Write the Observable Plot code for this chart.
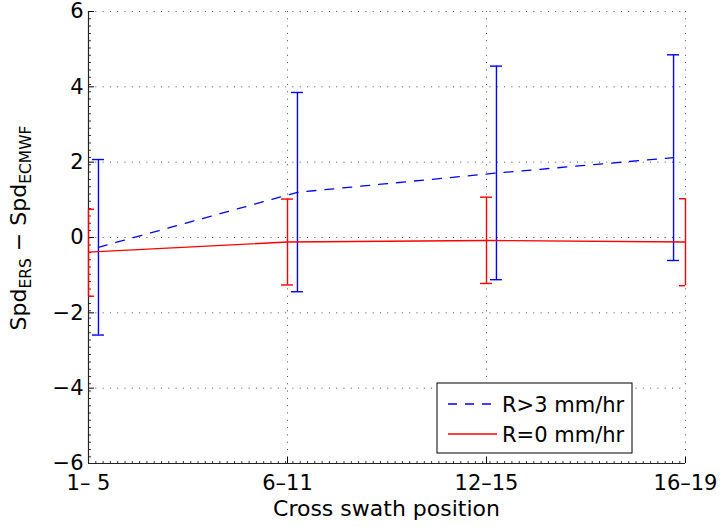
<!DOCTYPE html>
<html><head><meta charset="utf-8">
<script src="https://cdn.jsdelivr.net/npm/d3@7"></script>
<script src="https://cdn.jsdelivr.net/npm/@observablehq/plot@0.6"></script>
<style>body{margin:0;background:#fff} svg{font-family:"DejaVu Sans";}</style>
</head><body><div id="chart"></div>
<script>
// categories (cross swath position groups) and their axis positions
const positions = ["1– 5", "6–11", "12–15", "16–19"];
const positionTicks = [1, 2, 3, 4];
const yTicks = [-6, -4, -2, 0, 2, 4, 6];
const seriesNames = ["R>3 mm/hr", "R=0 mm/hr"];
const xLabel = "Cross swath position";

// R>3 mm/hr (blue, dashed) — plotted slightly offset from the category positions
const rainX = [1.05, 2.05, 3.05, 3.94];
const rainMean = [-0.26, 1.20, 1.71, 2.12];
const rainLow = [-2.59, -1.44, -1.12, -0.61];
const rainHigh = [2.07, 3.85, 4.55, 4.85];

// R=0 mm/hr (red, solid)
const dryX = [1, 2, 3, 4];
const dryMean = [-0.39, -0.12, -0.08, -0.12];
const dryLow = [-1.56, -1.26, -1.22, -1.28];
const dryHigh = [0.75, 1.02, 1.07, 1.03];

const rain = rainX.map((x, i) => ({x, mean: rainMean[i], low: rainLow[i], high: rainHigh[i]}));
const dry = dryX.map((x, i) => ({x, mean: dryMean[i], low: dryLow[i], high: dryHigh[i]}));

const BLUE = "#0000ff", RED = "#ff0000";
const gridStyle = {stroke: "#000", strokeOpacity: 0.7, strokeDasharray: "1,6.3", strokeWidth: 1};

function errorBars(data, color) {
  return [
    Plot.ruleX(data, {x: "x", y1: "low", y2: "high", stroke: color, strokeWidth: 1.4}),
    Plot.ruleY(data, {y: "high", x1: "x", x2: "x", insetLeft: -6, insetRight: -6, stroke: color, strokeWidth: 1.4, clip: true}),
    Plot.ruleY(data, {y: "low", x1: "x", x2: "x", insetLeft: -6, insetRight: -6, stroke: color, strokeWidth: 1.4, clip: true})
  ];
}

const chart = Plot.plot({
  width: 720, height: 527,
  marginLeft: 88, marginRight: 35, marginTop: 11, marginBottom: 64,
  style: {fontFamily: "DejaVu Sans", fontSize: "21px", color: "#000", background: "#fff", overflow: "visible"},
  x: {domain: [positionTicks[0], positionTicks[positionTicks.length - 1]]},
  y: {domain: [yTicks[0], yTicks[yTicks.length - 1]]},
  marks: [
    Plot.gridY(yTicks.slice(1), gridStyle),
    Plot.gridX(positionTicks.slice(1), gridStyle),
    // minor tick texture along the axes
    Plot.ruleX([positionTicks[0]], {dx: 1.5, strokeWidth: 2, stroke: "#333", strokeDasharray: "1,6.3"}),
    Plot.ruleY([yTicks[0]], {dy: -1.5, strokeWidth: 2, stroke: "#333", strokeDasharray: "1,6.3"}),
    // inner major ticks
    Plot.ruleY(yTicks, {x1: positionTicks[0], x2: positionTicks[0], insetRight: -6, stroke: "#000"}),
    Plot.ruleX(positionTicks, {y1: yTicks[0], y2: yTicks[0], insetTop: -6, insetBottom: 0, stroke: "#000"}),
    // axis lines
    Plot.ruleX([positionTicks[0]], {stroke: "#222", strokeWidth: 1.2}),
    Plot.ruleY([yTicks[0]], {stroke: "#222", strokeWidth: 1.2}),
    Plot.axisY(yTicks, {tickSize: 0, tickPadding: 5, fontSize: 21, label: null, tickFormat: d => d < 0 ? "−" + Math.abs(d) : String(d)}),
    Plot.axisX(positionTicks, {tickSize: 0, tickPadding: 12, fontSize: 21, label: null, tickFormat: d => positions[positionTicks.indexOf(d)]}),
    // series
    ...errorBars(rain, BLUE),
    ...errorBars(dry, RED),
    Plot.line(rain, {x: "x", y: "mean", stroke: BLUE, strokeWidth: 1.3, strokeDasharray: "9,9"}),
    Plot.line(dry, {x: "x", y: "mean", stroke: RED, strokeWidth: 1.3})
  ]
});

const svg = d3.select(chart);
// x label
svg.append("text").attr("x", 386.5).attr("y", 516).attr("text-anchor", "middle")
  .attr("font-size", 22).attr("fill", "#000").text(xLabel);
// y label with subscripts
const yl = svg.append("text").attr("transform", "translate(26,228) rotate(-90)")
  .attr("text-anchor", "middle").attr("font-size", 22).attr("fill", "#000");
yl.append("tspan").text("Spd");
yl.append("tspan").attr("font-size", 15.5).attr("dy", 5).text("ERS");
yl.append("tspan").attr("dy", -5).text(" − Spd");
yl.append("tspan").attr("font-size", 15.5).attr("dy", 5).text("ECMWF");
// legend
const lg = svg.append("g");
lg.append("rect").attr("x", 437).attr("y", 383).attr("width", 195).attr("height", 70)
  .attr("fill", "#fff").attr("stroke", "#000").attr("stroke-width", 1);
const rows = [{name: seriesNames[0], color: BLUE, dash: "9,8", y: 404}, {name: seriesNames[1], color: RED, dash: null, y: 434}];
rows.forEach(r => {
  const l = lg.append("line").attr("x1", 448).attr("x2", 497).attr("y1", r.y).attr("y2", r.y)
    .attr("stroke", r.color).attr("stroke-width", 1.3);
  if (r.dash) l.attr("stroke-dasharray", r.dash);
  lg.append("text").attr("x", 502).attr("y", r.y).attr("dy", "0.36em").attr("font-size", 21)
    .attr("text-anchor", "start").attr("fill", "#000").text(r.name);
});
document.getElementById("chart").appendChild(chart);
</script>
</body></html>
